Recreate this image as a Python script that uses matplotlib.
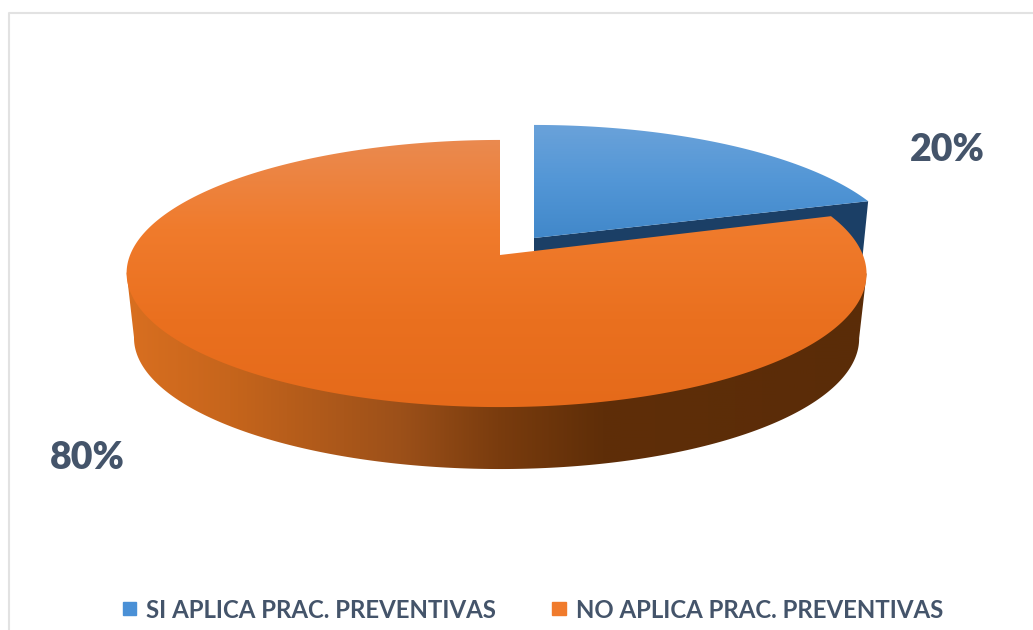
import numpy as np
import matplotlib
matplotlib.use("Agg")
import matplotlib.pyplot as plt
from matplotlib.colors import LinearSegmentedColormap
from matplotlib.patches import PathPatch, Patch
from matplotlib.path import Path

categories = ["SI APLICA PRAC. PREVENTIVAS", "NO APLICA PRAC. PREVENTIVAS"]
values = [20, 80]
pct_labels = ["20%", "80%"]

plt.rcParams['font.family'] = ['Lato', 'DejaVu Sans']

W, H = 1033, 630
fig = plt.figure(figsize=(W / 100, H / 100), dpi=100)
ax = fig.add_axes([0, 0, 1, 1])
ax.set_xlim(0, W)
ax.set_ylim(H, 0)
ax.axis("off")

# pie seen in perspective: unit circle pushed through a simple projective map
K = 0.1386
A = 366.4
B = 131.0
CX, CY = 500, 255
DEPTH = 65
BOTTOM_SCALE = 0.98


def project(frac, scale=1.0, dx=0, dy=0, skew=3.5):
    ang = 2 * np.pi * np.asarray(frac)
    u = np.sin(ang)
    v = np.cos(ang)
    w = 1 + K * v
    # the reference rim sits a little left of the apex at mid height
    return np.column_stack([CX + dx + A * scale * u / w - skew * (1 - v ** 2),
                            CY + dy - B * scale * v / w])


def fill_gradient(poly, colors, vertical=True, extent=None, z=1):
    # gradient image clipped to the polygon
    cmap = LinearSegmentedColormap.from_list("g", colors)
    grad = np.linspace(0, 1, 256)
    grad = grad[:, None] if vertical else grad[None, :]
    im = ax.imshow(grad, cmap=cmap, extent=extent, aspect="auto", zorder=z, interpolation="bilinear")
    patch = PathPatch(Path(np.vstack([poly, poly[0]]), closed=True), fc="none", ec="none", transform=ax.transData)
    ax.add_patch(patch)
    im.set_clip_path(patch)


split = values[0] / sum(values)

# blue slice, pulled away from the centre
off = (34, -15)
apex_blue = [CX + off[0], CY + off[1] - 2]
t_blue = np.linspace(0, split, 80)
rim_blue = project(t_blue, dx=off[0], dy=off[1], skew=0)
top_blue = np.vstack([apex_blue, rim_blue])
edge_top = project([split], dx=off[0], dy=off[1], skew=0)[0]
edge_bot = project([split], scale=BOTTOM_SCALE, dx=off[0], dy=off[1] + DEPTH, skew=0)[0]
side_blue = np.array([apex_blue, edge_top, edge_bot, [apex_blue[0], apex_blue[1] + DEPTH]])
ax.add_patch(PathPatch(Path(np.vstack([side_blue, side_blue[0]]), closed=True), fc="#1b3f66", ec="none", zorder=1))
fill_gradient(top_blue, ["#6ca3da", "#5296d6", "#3f86c8"], extent=(500, 900, 245, 120), z=2)

# orange slice
t_orange = np.linspace(split, 1, 600)
rim_top = project(t_orange)
rim_bot = project(t_orange, scale=BOTTOM_SCALE, dy=DEPTH)
i_right = np.argmax(rim_top[:, 0])
i_left = np.argmin(rim_top[:, 0])
j_right = np.argmax(rim_bot[:, 0])
j_left = np.argmin(rim_bot[:, 0])
side_orange = np.vstack([rim_top[i_right], rim_bot[j_right:j_left + 1], rim_top[i_left]])
side_colors = [(0.0, "#d96f20"), (0.14, "#c6651c"), (0.37, "#9c5019"), (0.5, "#7a3c0e"), (0.64, "#5f2e08"), (1.0, "#5a2c08")]
fill_gradient(side_orange, side_colors, vertical=False, extent=(125, 870, 480, 250), z=3)
top_orange = np.vstack([[CX, CY], rim_top])
fill_gradient(top_orange, ["#ea8a50", "#f07b2c", "#ea701f", "#e56a1a"], extent=(120, 870, 410, 138), z=4)

# frame of the chart area
ax.plot([9, 9, W], [H, 13, 13], color="#e2e2e2", lw=1.5, zorder=0)

ax.text(947, 150, pct_labels[0], color="#44546a", fontsize=27, fontweight="heavy", ha="center", va="center", zorder=6)
ax.text(87, 458, pct_labels[1], color="#44546a", fontsize=27, fontweight="heavy", ha="center", va="center", zorder=6)

handles = [Patch(color="#4a90d6", label=categories[0]), Patch(color="#f07b2c", label=categories[1])]
leg = ax.legend(handles=handles, loc="center", bbox_to_anchor=(533 / W, 1 - 610 / H), ncol=2, frameon=False,
                handlelength=0.55, handleheight=0.45, handletextpad=0.42, columnspacing=2.33,
                labelcolor="#44546a", prop={"weight": "bold", "size": 17.3})

fig.savefig("out.png", dpi=100)
